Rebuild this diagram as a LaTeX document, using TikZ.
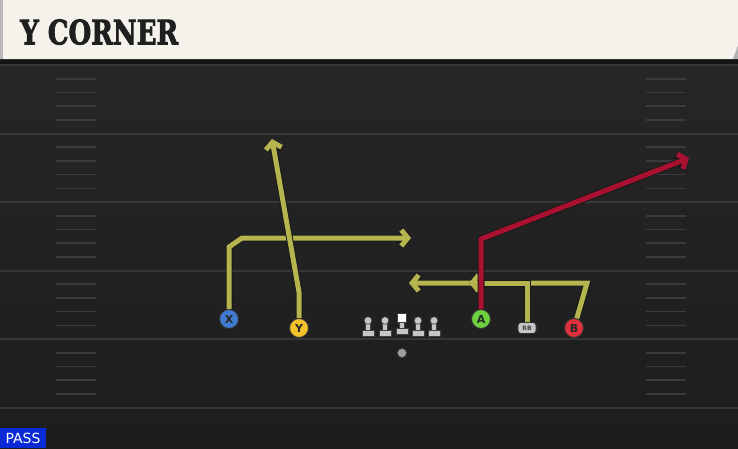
\documentclass[tikz,border=0pt]{standalone}
\usepackage{fontspec}
\newfontfamily\titlefont{DejaVu Serif}[BoldFeatures={FakeBold=2.5}]
\newfontfamily\labelfont{DejaVu Sans}
\usetikzlibrary{arrows.meta}
\definecolor{headbg}{HTML}{F4F2EB}
\definecolor{fieldtop}{HTML}{262626}
\definecolor{fieldbot}{HTML}{1D1D1D}
\definecolor{yardline}{HTML}{363636}
\definecolor{hashline}{HTML}{3B3B3B}
\definecolor{routeyellow}{HTML}{B5B44E}
\definecolor{routered}{HTML}{AA1030}
\definecolor{xblue}{HTML}{3F7BD0}
\definecolor{yyellow}{HTML}{F4C22B}
\definecolor{agreen}{HTML}{6DD13F}
\definecolor{bred}{HTML}{E0303C}
\definecolor{linegray}{HTML}{C6C6C6}
\definecolor{passblue}{HTML}{0A2AD6}

\begin{document}
\begin{tikzpicture}[x=1pt, y=-1pt,
player/.style={circle, draw=black!80, line width=0.9pt, minimum size=19pt, inner sep=0pt,
  font=\labelfont\bfseries\fontsize{11}{11}\selectfont, text=black!85},
rbnode/.style={rectangle, rounded corners=3pt, fill=linegray, draw=black!80, line width=0.7pt,
  minimum width=18pt, minimum height=11pt, inner sep=0pt,
  font=\labelfont\bfseries\fontsize{6}{6}\selectfont, text=black!75},
qbnode/.style={circle, fill=gray!75, draw=black!70, line width=0.6pt, minimum size=9pt, inner sep=0pt},
route/.style={line width=5pt, draw=#1, line join=miter, -{Straight Barb[length=6.5pt, width=16pt]},
  preaction={draw=black!90, line width=7pt}},
lineman/.style={fill=linegray, draw=black!75, line width=0.6pt}]
\useasboundingbox (0,0) rectangle (738,448);

% field
\fill[top color=fieldtop, bottom color=fieldbot] (0,59) rectangle (738,448);
\foreach \yl in {65,133.5,202,270.5,339,407.5}
  \draw[yardline, line width=2pt] (0,\yl) -- (738,\yl);
\foreach \yl in {65,133.5,202,270.5,339}
  \foreach \k in {1,...,4} {
    \draw[hashline, line width=1.6pt] (56,\yl+13.7*\k) -- (96,\yl+13.7*\k);
    \draw[hashline, line width=1.6pt] (646,\yl+13.7*\k) -- (686,\yl+13.7*\k);
  }

% header
\fill[black!92] (0,59) rectangle (738,64);
\fill[headbg] (0,0) -- (738,0) -- (738,45) -- (733,59) -- (0,59) -- cycle;
\fill[gray!60] (738,45) -- (738,59) -- (733,59) -- cycle;
\fill[gray!55] (0,0) rectangle (3,59);
\node[anchor=south west, inner sep=0pt, text=black!88] (title) at (20,45)
  {\resizebox{158pt}{25pt}{\titlefont\bfseries Y CORNER}};

% line
\foreach \lx in {368,385,418,434} {
  \fill[lineman] (\lx-6,330) rectangle (\lx+6,336);
  \fill[lineman] (\lx-2.5,322) rectangle (\lx+2.5,330);
  \fill[lineman] (\lx,320.5) circle (3.8pt);
}
\fill[lineman] (402-6,328.5) rectangle (402+6,334.5);
\fill[lineman] (402-2.5,321) rectangle (402+2.5,328.5);
\fill[white, draw=black!75, line width=0.6pt] (397.5,313) rectangle (406.5,322);
\node[qbnode] (qb) at (402,353) {};

% players
\node[player, fill=xblue] (x) at (229,319) {X};
\node[player, fill=yyellow] (y) at (299,328) {Y};
\node[player, fill=agreen] (a) at (481,319) {A};
\node[rbnode] (rb) at (527,328) {RB};
\node[player, fill=bred] (b) at (574,328) {B};

% route points
\coordinate (x1) at (229,247);
\coordinate (x2) at (242,238);
\coordinate (x3) at (411,238);
\coordinate (y1) at (299,292);
\coordinate (y2) at (272,139);
\coordinate (b1) at (587,283);
\coordinate (b2) at (409,283);
\coordinate (r1) at (527,283);
\coordinate (r2) at (469,283);
\coordinate (a1) at (481,239);
\coordinate (a2) at (689,158);

% routes
\draw[route=routeyellow] (x) -- (x1) -- (x2) -- (x3);
\draw[route=routeyellow] (y) -- (y1) -- (y2);
\draw[route=routeyellow] (b) -- (b1) -- (b2);
\draw[route=routeyellow] (rb) -- (r1) -- (r2);
\draw[route=routered] (a) -- (a1) -- (a2);

% play type
\fill[passblue] (0,428) rectangle (46,448);
\node[text=white, font=\labelfont\fontsize{14}{14}\selectfont, inner sep=0pt] (pass) at (23,438.5) {PASS};
\end{tikzpicture}
\end{document}
